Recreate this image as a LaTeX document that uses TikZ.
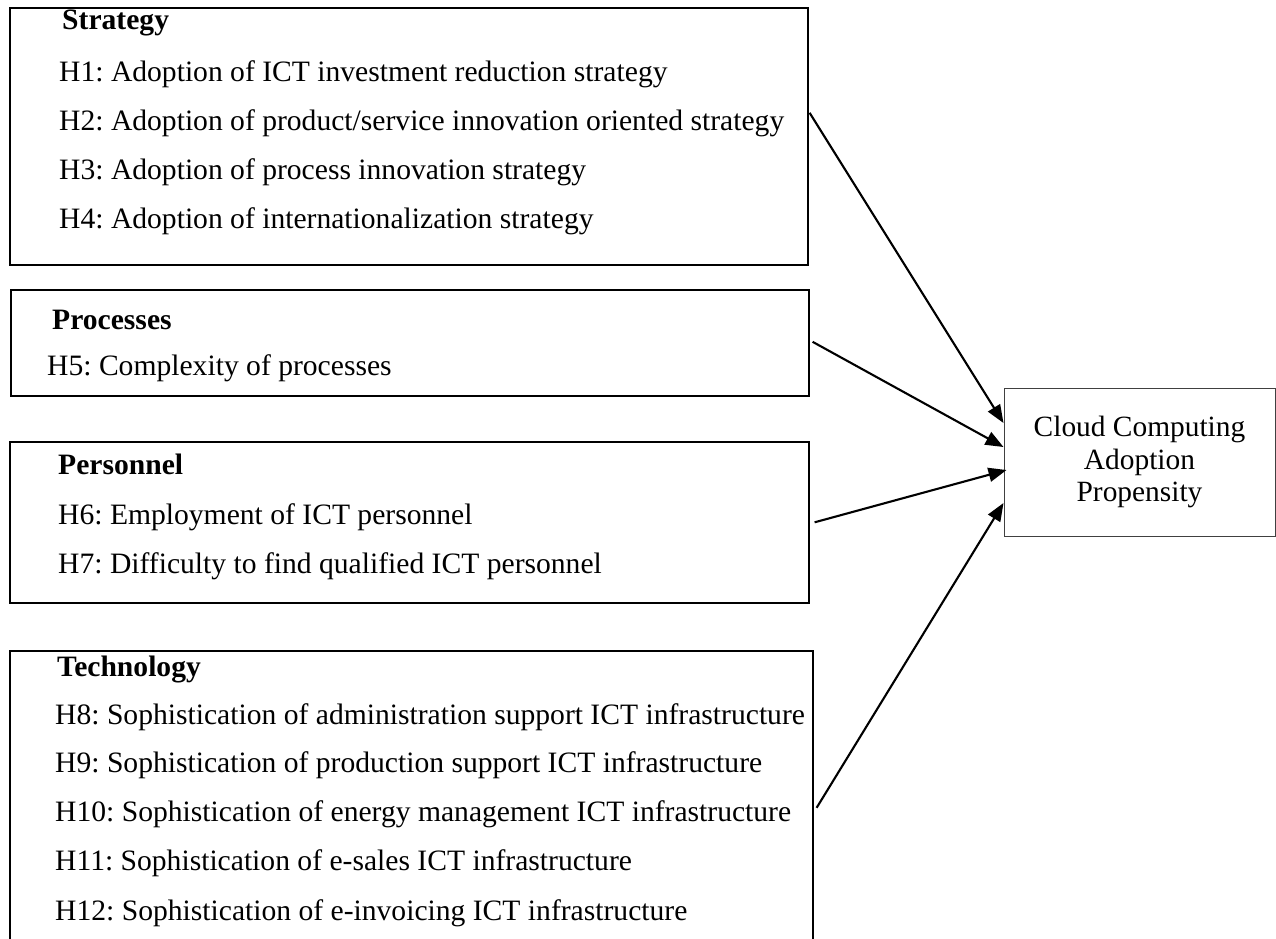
\documentclass[tikz,border=0pt]{standalone}
\usepackage{fontspec}
\setmainfont{Liberation Serif}
\usetikzlibrary{arrows.meta}
\tikzset{
  box/.style={draw=black, line width=1.6pt, rectangle, inner sep=0pt, anchor=north west},
  cloudbox/.style={draw=black!75, line width=1pt, rectangle, inner sep=0pt, align=center,
    font=\fontsize{29.4}{32.5}\selectfont},
  txt/.style={inner sep=0pt, anchor=base west, font=\fontsize{29.6}{32.5}\selectfont},
  ttl/.style={txt, font=\fontsize{29.6}{32.5}\selectfont\bfseries},
  arr/.style={line width=2.1pt, -{Triangle[length=18pt,width=14pt]}},
}
\frenchspacing
\begin{document}
\begin{tikzpicture}[x=1pt,y=-1pt]
\clip (0,0) rectangle (1276,938);
\fill[white] (0,0) rectangle (1276,938);
% boxes
\node[box, minimum width=798pt, minimum height=257pt] (strategy) at (9,7) {};
\node[box, minimum width=798pt, minimum height=106pt] (processes) at (10,289) {};
\node[box, minimum width=799pt, minimum height=161pt] (personnel) at (9,441) {};
\node[box, minimum width=803pt, minimum height=320pt] (technology) at (9,650) {};
\node[cloudbox, minimum width=271pt, minimum height=148pt] (cloud) at (1139.5,462) {Cloud Computing\\Adoption\\Propensity};
% strategy texts
\node[ttl] (tS) at (62,29) {Strategy};
\node[txt] (h1) at (59,81) {H1: Adoption of ICT investment reduction strategy};
\node[txt] (h2) at (59,130) {H2: Adoption of product/service innovation oriented strategy};
\node[txt] (h3) at (59,179) {H3: Adoption of process innovation strategy};
\node[txt] (h4) at (59,228) {H4: Adoption of internationalization strategy};
% processes
\node[ttl] (tP) at (52,329) {Processes};
\node[txt] (h5) at (47,375) {H5: Complexity of processes};
% personnel
\node[ttl] (tPe) at (58,474) {Personnel};
\node[txt] (h6) at (58,524) {H6: Employment of ICT personnel};
\node[txt] (h7) at (58,573) {H7: Difficulty to find qualified ICT personnel};
% technology
\node[ttl] (tT) at (57,676) {Technology};
\node[txt] (h8) at (55,724) {H8: Sophistication of administration support ICT infrastructure};
\node[txt] (h9) at (55,772) {H9: Sophistication of production support ICT infrastructure};
\node[txt] (h10) at (55,821) {H10: Sophistication of energy management ICT infrastructure};
\node[txt] (h11) at (55,870) {H11: Sophistication of e-sales ICT infrastructure};
\node[txt] (h12) at (55,920) {H12: Sophistication of e-invoicing ICT infrastructure};
% arrows
\draw[arr] ([xshift=1pt,yshift=23.5pt]strategy.east) -- ([yshift=39pt]cloud.west);
\draw[arr] ([xshift=3pt,yshift=1pt]processes.east) -- ([yshift=15pt]cloud.west);
\draw[arr] ([xshift=5pt]personnel.east) -- ([xshift=3pt,yshift=-8pt]cloud.west);
\draw[arr] ([xshift=3pt,yshift=3pt]technology.east) -- ([yshift=-41pt]cloud.west);
\end{tikzpicture}
\end{document}
